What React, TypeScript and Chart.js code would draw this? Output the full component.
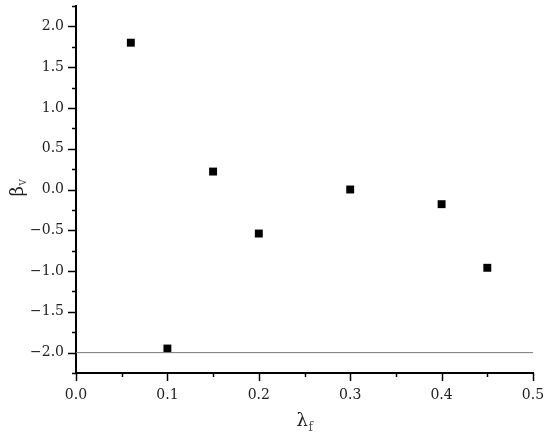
import React, { useEffect, useRef } from "react";
import { Chart, registerables } from "chart.js";

Chart.register(...registerables);

const lambdaF = [0.06, 0.1, 0.15, 0.2, 0.3, 0.4, 0.45];
const betaV = [1.8, -1.95, 0.22, -0.54, 0.0, -0.18, -0.96];
const refLineX = [0, 0.5];
const refLineY = [-2, -2];
const xTicks = [0, 0.1, 0.2, 0.3, 0.4, 0.5];
const xMinorTicks = [0.05, 0.15, 0.25, 0.35, 0.45];
const yTicks = [-2, -1.5, -1, -0.5, 0, 0.5, 1, 1.5, 2];
const yMinorTicks = [-2.25, -1.75, -1.25, -0.75, -0.25, 0.25, 0.75, 1.25, 1.75, 2.25];

const fmt = (v: number) => {
  const s = Math.abs(v).toFixed(1);
  return v < -1e-9 ? "\u2212" + s : s;
};

const extrasPlugin = {
  id: "extras",
  afterDraw(chart: any) {
    const ctx = chart.ctx as CanvasRenderingContext2D;
    const xs = chart.scales.x;
    const ys = chart.scales.y;
    const area = chart.chartArea;
    ctx.save();
    ctx.strokeStyle = "#000";
    ctx.lineWidth = 1.5;
    const tick = (x1: number, y1: number, x2: number, y2: number) => {
      ctx.beginPath();
      ctx.moveTo(x1, y1);
      ctx.lineTo(x2, y2);
      ctx.stroke();
    };
    yTicks.forEach((v) => {
      const p = Math.round(ys.getPixelForValue(v)) + 0.5;
      tick(area.left - 8, p, area.left, p);
    });
    yMinorTicks.forEach((v) => {
      const p = Math.round(ys.getPixelForValue(v)) + 0.5;
      tick(area.left - 4, p, area.left, p);
    });
    xTicks.forEach((v) => {
      const p = Math.round(xs.getPixelForValue(v)) + 0.5;
      tick(p, area.bottom, p, area.bottom + 8);
    });
    xMinorTicks.forEach((v) => {
      const p = Math.round(xs.getPixelForValue(v)) + 0.5;
      tick(p, area.bottom, p, area.bottom + 4);
    });

    // x title: lambda_f
    ctx.fillStyle = "#222";
    ctx.textBaseline = "alphabetic";
    ctx.textAlign = "left";
    const bigFont = "18px 'DejaVu Serif'";
    const smallFont = "12px 'DejaVu Serif'";
    ctx.font = bigFont;
    const wl = ctx.measureText("λ").width;
    ctx.font = smallFont;
    const wf = ctx.measureText("f").width;
    const cx = (area.left + area.right) / 2;
    const startX = cx - (wl + wf) / 2;
    ctx.font = bigFont;
    ctx.fillText("λ", startX, 426);
    ctx.font = smallFont;
    ctx.fillStyle = "#555";
    ctx.fillText("f", startX + wl + 0.5, 431);

    // y title: beta_v rotated
    ctx.save();
    ctx.font = bigFont;
    const wb = ctx.measureText("β").width;
    ctx.font = smallFont;
    const wv = ctx.measureText("v").width;
    const cy = 188;
    ctx.translate(23, cy + (wb + wv) / 2);
    ctx.rotate(-Math.PI / 2);
    ctx.fillStyle = "#222";
    ctx.font = bigFont;
    ctx.fillText("β", 0, 0);
    ctx.font = smallFont;
    ctx.fillStyle = "#555";
    ctx.fillText("v", wb + 0.5, 3);
    ctx.restore();

    ctx.restore();
  },
};

const zeroPad = (s: any) => {
  s.paddingTop = 0;
  s.paddingBottom = 0;
  s.paddingLeft = 0;
  s.paddingRight = 0;
};

export default function App() {
  const ref = useRef<HTMLCanvasElement>(null);
  useEffect(() => {
    if (!ref.current) return;
    const chart = new Chart(ref.current, {
      type: "scatter",
      data: {
        datasets: [
          {
            type: "line",
            label: "ref",
            data: refLineX.map((x, i) => ({ x, y: refLineY[i] })),
            borderColor: "#7a7a7a",
            borderWidth: 1,
            pointRadius: 0,
            fill: false,
          } as any,
          {
            label: "beta",
            data: lambdaF.map((x, i) => ({ x, y: betaV[i] })),
            pointStyle: "rect",
            pointRadius: 5.6,
            backgroundColor: "#000",
            borderColor: "#000",
            borderWidth: 0,
          },
        ],
      },
      options: {
        responsive: false,
        animation: false,
        layout: { padding: { top: 6, right: 17, left: 0, bottom: 0 } },
        plugins: { legend: { display: false }, tooltip: { enabled: false } },
        scales: {
          x: {
            type: "linear",
            min: 0,
            max: 0.5,
            afterBuildTicks: (s: any) => {
              s.ticks = xTicks.map((value) => ({ value }));
            },
            afterFit: (s: any) => {
              s.height = 64;
              zeroPad(s);
            },
            grid: { display: false, drawTicks: false },
            border: { display: true, color: "#000", width: 2 },
            ticks: {
              autoSkip: false,
              maxRotation: 0,
              padding: 14,
              color: "#222",
              font: { family: "'DejaVu Serif'", size: 14 },
              callback: (v: any) => fmt(Number(v)),
            },
          },
          y: {
            type: "linear",
            min: -2.25,
            max: 2.25,
            afterBuildTicks: (s: any) => {
              s.ticks = yTicks.map((value) => ({ value }));
            },
            afterFit: (s: any) => {
              s.width = 76;
              zeroPad(s);
            },
            grid: { display: false, drawTicks: false },
            border: { display: true, color: "#000", width: 2 },
            ticks: {
              autoSkip: false,
              padding: 12,
              color: "#222",
              font: { family: "'DejaVu Serif'", size: 14 },
              callback: (v: any) => fmt(Number(v)),
            },
          },
        },
      },
      plugins: [extrasPlugin],
    });
    return () => chart.destroy();
  }, []);
  return (
    <div style={{ position: "absolute", left: 0, top: 0, width: 550, height: 437, background: "#fff" }}>
      <canvas ref={ref} width={550} height={437} />
    </div>
  );
}
